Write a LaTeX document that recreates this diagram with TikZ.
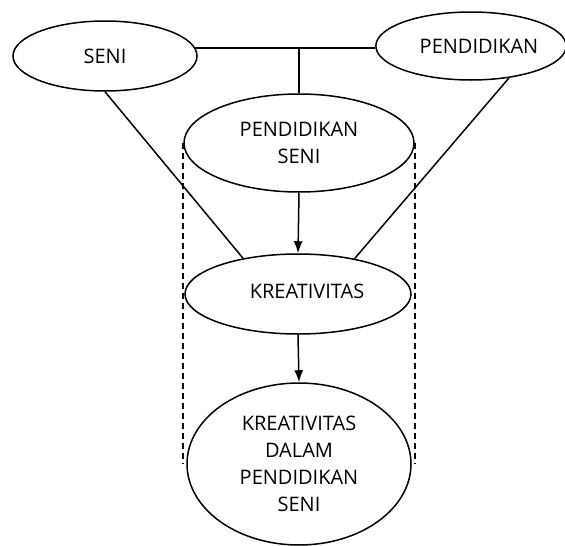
\documentclass[tikz,border=0pt]{standalone}
\usepackage{fontspec}
\setmainfont{Open Sans}
\usetikzlibrary{shapes.geometric,arrows.meta}
\begin{document}
\begin{tikzpicture}[x=1pt,y=-1pt,
  oval/.style={draw,ellipse,line width=1.5pt,inner sep=0pt,align=center,
    font=\fontsize{20}{27}\selectfont},
  conn/.style={line width=1.5pt},
  arr/.style={line width=1.5pt,-{Latex[length=12pt,width=9pt]}},
  dsh/.style={line width=1.6pt,dash pattern=on 6pt off 4pt}]
\useasboundingbox (0,0) rectangle (565,546);
\node[oval,minimum width=184pt,minimum height=70pt] (seni) at (105,56) {SENI};
\node[oval,minimum width=188pt,minimum height=68pt] (pend) at (471,46) {\hspace*{16pt}PENDIDIKAN};
\node[oval,minimum width=230pt,minimum height=98pt] (ps) at (299,143) {PENDIDIKAN\\SENI};
\node[oval,minimum width=226pt,minimum height=80pt] (kr) at (298,294) {\raisebox{5pt}{\hspace*{18pt}KREATIVITAS}};
\node[oval,minimum width=224pt,minimum height=162pt] (bot) at (299,464) {KREATIVITAS\\DALAM\\PENDIDIKAN\\SENI};
\coordinate (hl) at (seni.5);
\coordinate (hr) at (pend.west |- hl);
\coordinate (j) at (ps.north |- hl);
\draw[conn] (hl) -- (hr);
\draw[conn] (j) -- (ps.north);
\draw[conn] (seni.south) -- (kr.147);
\draw[conn] (pend.-40) -- (kr.32);
\draw[arr] (ps.south) -- (kr.north);
\draw[arr] (kr.south) -- (bot.north);
\coordinate (dl) at (ps.west |- bot.west);
\coordinate (dr) at (ps.east |- bot.east);
\draw[dsh] (ps.west) -- (dl);
\draw[dsh] (ps.east) -- (dr);
\end{tikzpicture}
\end{document}
